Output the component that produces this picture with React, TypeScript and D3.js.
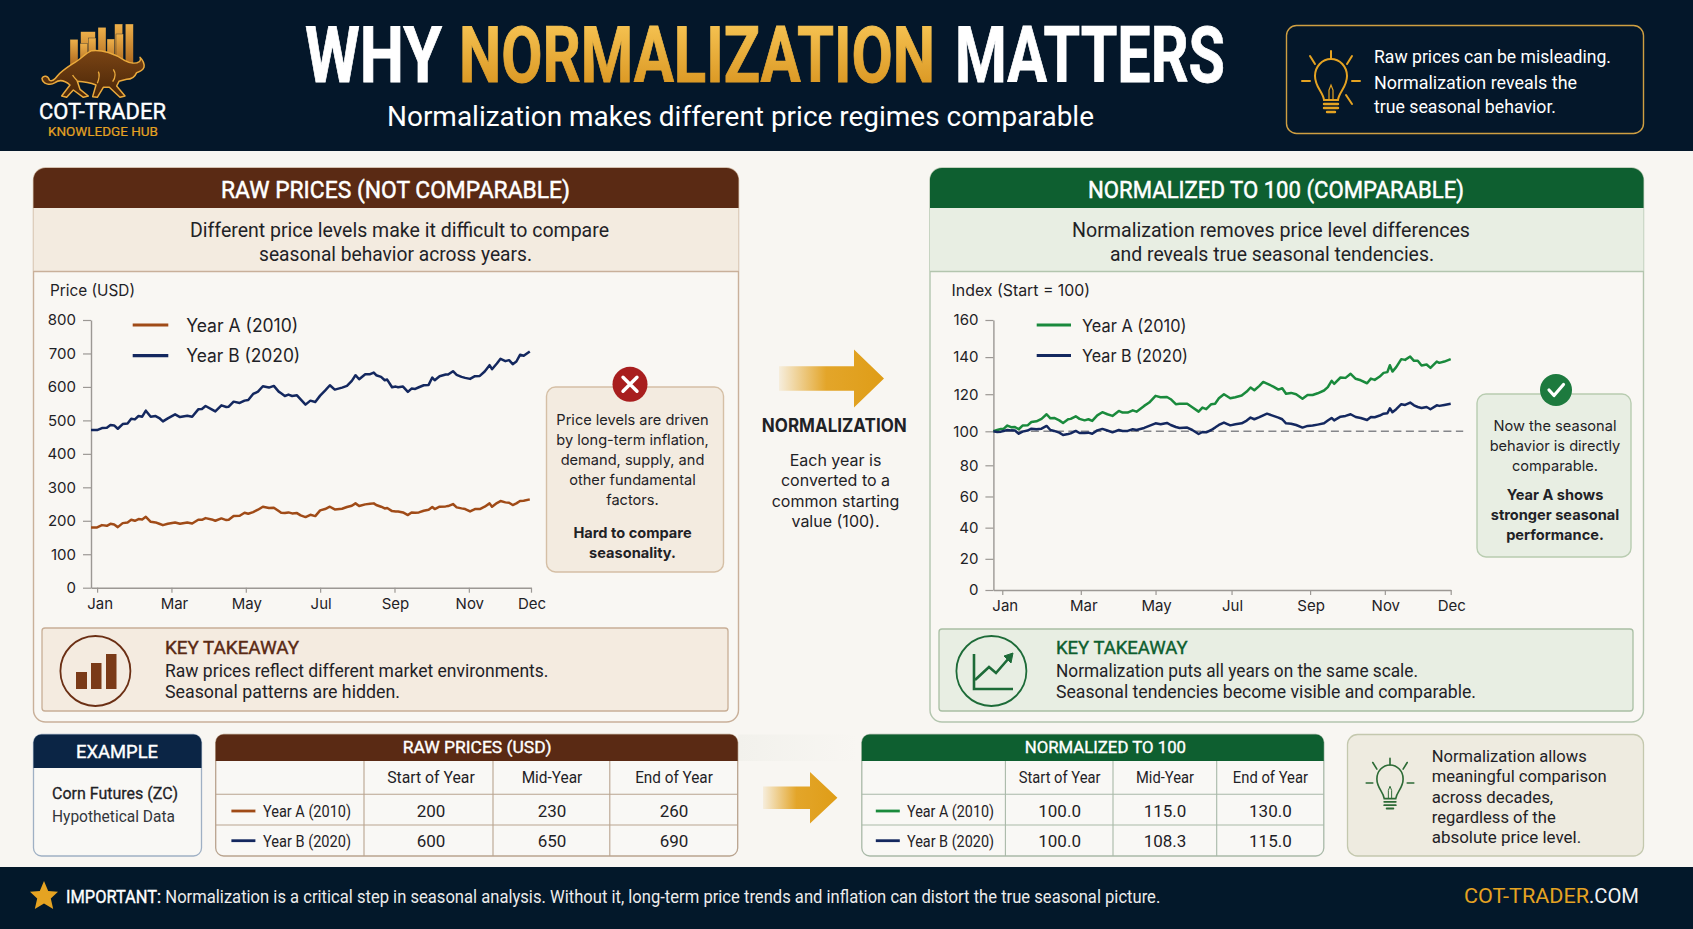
import { useEffect, useRef } from 'react';
import * as d3 from 'd3';

const narrow = "'Roboto', sans-serif";
const sans = "'Inter', 'Noto Sans', sans-serif";

const BROWN = '#5a2a14';
const GREEN = '#0e5f30';
const NAVY = '#14285f';
const LINE_BROWN = '#a04b17';
const LINE_GREEN = '#1a8a3c';
const GOLD = '#e5a322';
const INK = '#1f2226';

// shared chart data
const monthLabels = ['Jan', 'Mar', 'May', 'Jul', 'Sep', 'Nov', 'Dec'];
const rawMonthDays = [5, 66, 127, 188, 249, 310, 361];
const normMonthDays = [7, 69, 128, 188, 250, 309, 361];
const rawTicks = [0, 100, 200, 300, 400, 500, 600, 700, 800];
const normTicks = [0, 20, 40, 60, 80, 100, 120, 140, 160];
const rawDays = [
  0, 5, 9, 13, 16, 19, 22, 26, 30, 33,
  36, 39, 42, 45, 49, 53, 56, 59, 63, 69,
  73, 79, 83, 88, 91, 94, 99, 102, 107, 111,
  113, 117, 122, 126, 129, 133, 137, 141, 146, 150,
  154, 156, 159, 162, 165, 169, 172, 176, 180, 184,
  188, 192, 196, 200, 206, 210, 214, 217, 220, 225,
  229, 232, 234, 238, 241, 243, 247, 250, 252, 256,
  260, 263, 266, 269, 273, 277, 280, 282, 286, 291,
  293, 297, 300, 304, 307, 311, 315, 319, 323, 327,
  329, 333, 336, 340, 343, 346, 349, 352, 355, 360,
];
const rawYearA = [
  180, 180, 187, 185, 191, 189, 181, 193, 195, 203,
  200, 205, 204, 212, 197, 195, 191, 187, 191, 195,
  191, 195, 192, 203, 203, 208, 204, 200, 207, 202,
  203, 214, 215, 224, 221, 226, 233, 242, 238, 239,
  229, 224, 223, 225, 222, 223, 216, 211, 218, 214,
  231, 235, 242, 234, 236, 241, 245, 252, 244, 249,
  251, 252, 247, 242, 237, 238, 229, 228, 228, 225,
  217, 225, 224, 225, 230, 233, 241, 235, 242, 243,
  244, 250, 240, 237, 235, 228, 235, 235, 242, 252,
  242, 253, 259, 255, 254, 247, 252, 259, 260, 264,
];
const rawYearB = [
  471, 471, 477, 478, 486, 485, 475, 489, 491, 505,
  503, 513, 511, 529, 511, 513, 507, 497, 506, 518,
  510, 514, 511, 533, 534, 543, 533, 527, 545, 540,
  541, 556, 552, 559, 561, 579, 586, 602, 598, 603,
  586, 581, 573, 577, 573, 575, 563, 547, 559, 555,
  574, 589, 605, 592, 598, 603, 618, 635, 623, 638,
  638, 643, 635, 630, 620, 622, 599, 601, 599, 601,
  585, 595, 594, 599, 605, 606, 628, 620, 632, 637,
  637, 647, 636, 630, 627, 624, 632, 633, 646, 665,
  653, 670, 684, 677, 680, 668, 676, 696, 693, 706,
];
const normDays = [
  0, 3, 6, 8, 11, 14, 17, 20, 23, 27,
  30, 34, 38, 42, 45, 48, 52, 55, 59, 61,
  65, 68, 72, 75, 78, 82, 86, 90, 94, 99,
  102, 106, 110, 113, 119, 123, 128, 132, 137, 140,
  144, 147, 153, 157, 162, 165, 168, 172, 175, 178,
  182, 187, 191, 196, 200, 203, 206, 210, 213, 216,
  221, 225, 228, 231, 235, 239, 244, 248, 252, 256,
  261, 264, 267, 269, 274, 278, 282, 286, 290, 295,
  298, 301, 305, 308, 311, 313, 315, 318, 322, 325,
  329, 332, 335, 338, 342, 345, 350, 352, 356, 361,
];
const normYearA = [
  100, 100.7, 101.3, 101.3, 103.1, 102.2, 102.3, 101.1, 103.1, 103.2,
  105, 105.4, 106.7, 109.2, 107, 107.2, 105.9, 104.5, 106.5, 106.7,
  108.1, 106.7, 105.9, 106.5, 105.6, 108.6, 110.3, 109.2, 108.3, 111,
  110.1, 110.1, 111.3, 110.6, 113.7, 115.5, 119.1, 118.4, 118.5, 117.3,
  114.6, 114.8, 114.9, 113, 110.6, 112.8, 111.9, 114.6, 114.9, 117.8,
  120, 117.8, 118.4, 119.3, 121.4, 123.6, 122.1, 124.5, 126.6, 125.7,
  124.1, 122.5, 123.2, 120.2, 120.7, 120, 117.6, 119.6, 119.6, 120.5,
  122, 123.8, 127.2, 125.6, 129, 128.8, 131, 128.3, 127.5, 125.9,
  128.4, 127.7, 129.5, 131.5, 131.9, 135.6, 132.2, 134.6, 138.9, 138.5,
  140.3, 138, 138, 135.5, 136, 134.2, 137.6, 136.9, 137.6, 138.9,
];
const normYearB = [
  100, 99.6, 99.8, 100.2, 100.7, 100.5, 100.4, 98.6, 99.8, 100.4,
  101.4, 101.1, 101.4, 102.9, 100.7, 100.2, 99.2, 97.8, 98.4, 98.8,
  100.2, 99, 99, 99.2, 98.6, 100.5, 101.3, 100.4, 99.4, 100.7,
  100.2, 100.2, 101.1, 100.7, 101.8, 102.9, 104.3, 103.8, 104.5, 103.4,
  102.3, 101.8, 102, 100.7, 98.4, 99.6, 99.4, 100.7, 102, 103.4,
  104.7, 103.2, 103.8, 104.3, 105.8, 107.4, 106.5, 107.6, 108.6, 109.5,
  108.3, 107.4, 106.5, 104.3, 104.1, 103.4, 102, 102.9, 103.1, 103.6,
  104.3, 105.8, 107.2, 105.9, 107.9, 108.3, 109.2, 107.7, 107.2, 106.1,
  107.7, 107.6, 108.5, 109.5, 109.7, 112.4, 110.3, 111.9, 114.6, 114.2,
  115.5, 114, 113.1, 112.6, 113.1, 111.9, 114, 113.7, 114.2, 114.8,
];

// table data
const tableColumns = ['Start of Year', 'Mid-Year', 'End of Year'];
const rowLabels = ['Year A (2010)', 'Year B (2020)'];
const rawTable = [['200', '230', '260'], ['600', '650', '690']];
const normTable = [['100.0', '115.0', '130.0'], ['100.0', '108.3', '115.0']];

// heavy = thin outline in the fill colour
// sx = squeeze the glyphs with a transform so the text box stays at its drawn width
function T({ x, y, size, w, fill = INK, font = sans, weight = 400, anchor = 'start', heavy, sx, children }: any) {
  const place = sx ? { transform: `translate(${x},${y}) scale(${sx},1)` } : { x, y };
  const length = w ? (sx ? w / sx : w) : undefined;
  return (
    <text
      {...place}
      fontSize={size}
      fontFamily={font}
      fontWeight={weight}
      fill={fill}
      stroke={heavy ? fill : undefined}
      strokeWidth={heavy}
      textAnchor={anchor}
      textLength={length}
      lengthAdjust={w ? 'spacingAndGlyphs' : undefined}
    >
      {children}
    </text>
  );
}

function LineChart({ days, seriesA, seriesB, colorA, tickDays, yTicks, xRange, yDomain, yRange, refLine, labelPad }: any) {
  const ref = useRef<SVGGElement>(null);

  useEffect(() => {
    if (!ref.current) return;
    const g = d3.select(ref.current);
    g.selectAll('*').remove();

    const x = d3.scaleLinear().domain([0, 361]).range(xRange);
    const y = d3.scaleLinear().domain(yDomain).range(yRange);
    const axisColor = '#9c9894';

    // axes
    const bottom = g.append('g')
      .attr('transform', `translate(0,${y(0)})`)
      .call(
        d3.axisBottom(x)
          .tickValues(tickDays)
          .tickFormat((_d, i) => monthLabels[i])
          .tickSize(5)
          .tickSizeOuter(0)
          .tickPadding(labelPad)
      );
    const left = g.append('g')
      .attr('transform', `translate(${xRange[0]},0)`)
      .call(d3.axisLeft(y).tickValues(yTicks).tickSize(8).tickSizeOuter(0).tickPadding(7));

    [bottom, left].forEach(a => {
      a.selectAll('path').attr('stroke', axisColor).attr('stroke-width', 1.4);
      a.selectAll('line').attr('stroke', axisColor).attr('stroke-width', 1.2);
      a.selectAll('text')
        .style('font-family', sans)
        .style('font-size', '15px')
        .style('fill', INK);
    });
    bottom.selectAll('text').attr('dx', (_d, i) => (i < 2 ? 2.5 : 0.5));

    if (refLine !== undefined) {
      g.append('line')
        .attr('x1', x(0))
        .attr('x2', x(361) + 12.5)
        .attr('y1', y(refLine))
        .attr('y2', y(refLine))
        .attr('stroke', '#85868a')
        .attr('stroke-width', 1.4)
        .attr('stroke-dasharray', '8,4.5');
    }

    const line = d3.line<number>()
      .x((_d, i) => x(days[i]))
      .y(d => y(d));

    g.append('path').datum(seriesA as number[])
      .attr('fill', 'none').attr('stroke', colorA).attr('stroke-width', 2.5).attr('stroke-linejoin', 'round')
      .attr('d', line);
    g.append('path').datum(seriesB as number[])
      .attr('fill', 'none').attr('stroke', NAVY).attr('stroke-width', 2.5).attr('stroke-linejoin', 'round')
      .attr('d', line);
  }, []);

  return <g ref={ref} />;
}

function Bulb({ cx, cy, s, color, lowRay }: any) {
  return (
    <g transform={`translate(${cx},${cy}) scale(${s})`} fill="none" stroke={color} strokeWidth={2} strokeLinecap="round">
      <path d="M-7,19 C-8,11 -16,6 -16,-5 A16,17 0 1 1 16,-5 C16,6 8,11 7,19 Z" />
      <path d="M-2,19 L-2,9 L0,4 L2,9 L2,19" strokeWidth={1.2} />
      <path d="M-7,23 H7 M-7,27 H7 M-4,31 H4" strokeWidth={2.4} />
      <path d="M0,-30 V-22 M-21,-25 L-16,-17 M21,-25 L16,-17 M-29,0 H-21 M29,0 H21" />
      {lowRay && <path d="M15,14 L21,23" />}
    </g>
  );
}

function Panel({ x, width, head, tint, edge, title, titleW, titleX, l1, l1x, l1w, l2, l2x, l2w }: any) {
  return (
    <g>
      <rect x={x} y={168} width={width} height={554} rx={12} fill="#f9f7f3" stroke={edge} strokeWidth={1.4} />
      <path d={`M${x},208 V180 A12,12 0 0 1 ${x + 12},168 H${x + width - 12} A12,12 0 0 1 ${x + width},180 V208 Z`} fill={head} />
      <rect x={x} y={208} width={width} height={63} fill={tint} />
      <line x1={x} x2={x + width} y1={271.5} y2={271.5} stroke={edge} strokeWidth={1.4} />
      <T x={titleX} y={198} size={24} w={titleW} fill="#fff" font={narrow} heavy={0.5}>{title}</T>
      <T x={l1x} y={236.5} size={20} w={l1w} font={narrow}>{l1}</T>
      <T x={l2x} y={261} size={20} w={l2w} font={narrow}>{l2}</T>
    </g>
  );
}

function DataTable({ x, width, title, titleX, titleW, head, edge, colX, colCenters, colHeadW, labelX, labelW, swatchX, colorA, values }: any) {
  const top = 734.5;
  const bottom = 856;
  return (
    <g>
      <rect x={x} y={top} width={width} height={bottom - top} rx={8} fill="#f9f8f5" stroke={edge} strokeWidth={1.3} />
      <path d={`M${x},761 V${top + 8} A8,8 0 0 1 ${x + 8},${top} H${x + width - 8} A8,8 0 0 1 ${x + width},${top + 8} V761 Z`} fill={head} />
      <T x={titleX} y={753} size={16.5} w={titleW} fill="#fff" font={narrow} heavy={0.35}>{title}</T>
      {[794.3, 825].map(y => <line key={y} x1={x} x2={x + width} y1={y} y2={y} stroke={edge} strokeWidth={1.1} />)}
      {colX.map((cx: number) => <line key={cx} x1={cx} x2={cx} y1={761} y2={bottom} stroke={edge} strokeWidth={1.1} />)}
      {tableColumns.map((c, i) => (
        <T key={c} x={colCenters[i]} y={783} size={16} w={colHeadW[i]} anchor="middle" font={narrow}>{c}</T>
      ))}
      {rowLabels.map((r, i) => (
        <g key={r}>
          <line x1={swatchX} x2={swatchX + 24} y1={811 + i * 29.7} y2={811 + i * 29.7} stroke={i === 0 ? colorA : NAVY} strokeWidth={2.8} />
          <T x={labelX} y={816.7 + i * 30} size={16} w={labelW} font={narrow}>{r}</T>
          {values[i].map((v: string, j: number) => (
            <T key={j} x={colCenters[j]} y={817 + i * 30} size={17} anchor="middle" font={narrow}>{v}</T>
          ))}
        </g>
      ))}
    </g>
  );
}

function Arrow({ x0, x1, xh, yc, shaft, head, id }: any) {
  return (
    <path
      d={`M${x0},${yc - shaft} H${xh} V${yc - head} L${x1},${yc} L${xh},${yc + head} V${yc + shaft} H${x0} Z`}
      fill={`url(#${id})`}
    />
  );
}

export default function App() {
  return (
    <svg width={1693} height={929} viewBox="0 0 1693 929" style={{ position: 'fixed', left: 0, top: 0, display: 'block' }}>
      <defs>
        <linearGradient id="goldText" gradientUnits="userSpaceOnUse" x1="0" x2="0" y1="-55" y2="0">
          <stop offset="0%" stopColor="#f4c04f" />
          <stop offset="100%" stopColor="#dc9a26" />
        </linearGradient>
        <linearGradient id="arrowA" x1="0" x2="1" y1="0" y2="0">
          <stop offset="0%" stopColor="#e4a21e" stopOpacity={0.1} />
          <stop offset="45%" stopColor="#e2a11f" stopOpacity={0.95} />
          <stop offset="100%" stopColor="#df9d17" />
        </linearGradient>
        <linearGradient id="barGold" x1="0" x2="0" y1="0" y2="1">
          <stop offset="0%" stopColor="#eeb04a" />
          <stop offset="100%" stopColor="#a9641c" />
        </linearGradient>
        <linearGradient id="bullFill" x1="0" x2="0" y1="0" y2="1">
          <stop offset="0%" stopColor="#7a4414" />
          <stop offset="100%" stopColor="#4a2608" />
        </linearGradient>
        <linearGradient id="bandFade" x1="0" x2="1" y1="0" y2="0">
          <stop offset="0%" stopColor="#f2f1ec" />
          <stop offset="100%" stopColor="#f2f1ec" stopOpacity={0} />
        </linearGradient>
      </defs>

      <rect width={1693} height={929} fill="#f8f6f2" />

      {/* header */}
      <rect width={1693} height={151} fill="#04172a" />
      <g transform="translate(20,10) scale(0.3333)">
        {[[150, 88, 24], [182, 65, 44], [234, 52, 24], [284, 42, 24], [316, 42, 24], [180, 100, 22], [206, 84, 22], [261, 87, 23], [288, 72, 22]].map(([bx, by, bw], i) => (
          <rect key={i} x={bx} y={by} width={bw} height={170 - by} fill="url(#barGold)" stroke="#04172a" strokeWidth={1} />
        ))}
        <path
          d="M66,205 C70,195 85,197 88,210 C95,216 105,208 112,198 C125,182 145,170 160,160 C180,150 195,130 215,122 C245,118 285,130 315,152 C330,160 348,162 358,155 C362,152 362,145 360,142 C368,150 374,160 372,172 C368,182 358,186 350,188 C345,200 335,208 320,208 L297,214 L290,228 L315,258 L300,262 L268,232 L250,232 L232,262 L218,260 L228,225 C210,218 190,215 172,214 L180,238 L205,258 L190,262 L160,240 L140,262 L125,258 L150,225 C135,212 118,208 105,218 C90,228 68,222 66,205 Z"
          fill="url(#bullFill)"
          stroke="#eaaa3c"
          strokeWidth={4.5}
          strokeLinejoin="round"
        />
        <path d="M235,185 C240,195 238,205 232,220 M280,178 C288,190 285,205 278,215 M172,212 C165,205 160,200 158,195" fill="none" stroke="#eaaa3c" strokeWidth={4} />
      </g>
      <T x={39} y={119} size={21.5} w={127} fill="#fff" font={narrow} heavy={0.4}>COT-TRADER</T>
      <T x={48} y={136} size={13} w={110} fill={GOLD} font={narrow} heavy={0.2}>KNOWLEDGE HUB</T>

      <T x={305} y={82} size={77} w={137} sx={0.8} fill="#fff" font={narrow} weight={700} heavy={0.8}>WHY</T>
      <T x={459} y={82} size={77} w={476} sx={0.8} fill="url(#goldText)" font={narrow} weight={700} heavy={0.8}>NORMALIZATION</T>
      <T x={955} y={82} size={77} w={270} sx={0.77} fill="#fff" font={narrow} weight={700} heavy={0.8}>MATTERS</T>
      <T x={387} y={126} size={27} w={707} fill="#fff" font={narrow}>Normalization makes different price regimes comparable</T>

      <rect x={1286.5} y={25.5} width={357} height={108} rx={10} fill="none" stroke="#cf9f42" strokeWidth={1.4} />
      <Bulb cx={1331} cy={81} s={1} color={GOLD} lowRay />
      <T x={1374} y={63} size={18} w={237} fill="#fff" font={narrow}>Raw prices can be misleading.</T>
      <T x={1374} y={88.5} size={18} w={203} fill="#fff" font={narrow}>Normalization reveals the</T>
      <T x={1374} y={113} size={18} w={182} fill="#fff" font={narrow}>true seasonal behavior.</T>

      {/* raw panel */}
      <Panel
        x={33.5} width={705} head={BROWN} tint="#f3ebe0" edge="#c9b09a"
        title="RAW PRICES (NOT COMPARABLE)" titleX={221} titleW={349}
        l1="Different price levels make it difficult to compare" l1x={190} l1w={419}
        l2="seasonal behavior across years." l2x={259} l2w={273}
      />
      <T x={50} y={296} size={16} w={85} font={sans}>Price (USD)</T>
      <line x1={132.7} x2={168.3} y1={325} y2={325} stroke={LINE_BROWN} strokeWidth={3.2} />
      <line x1={132.7} x2={168.3} y1={355.7} y2={355.7} stroke={NAVY} strokeWidth={3.2} />
      <T x={186.2} y={332} size={18} w={112} font={sans}>{rowLabels[0]}</T>
      <T x={186.2} y={362} size={18} w={114} font={sans}>{rowLabels[1]}</T>
      <LineChart
        days={rawDays} seriesA={rawYearA} seriesB={rawYearB} colorA={LINE_BROWN}
        tickDays={rawMonthDays} yTicks={rawTicks} xRange={[91, 531]}
        yDomain={[0, 800]} yRange={[587.7, 320]} labelPad={6}
      />
      <rect x={546.5} y={387} width={177} height={185} rx={9} fill="#f3ebe0" stroke="#d5bfa5" strokeWidth={1.4} />
      <circle cx={630} cy={384.3} r={17.5} fill="#a81e1e" />
      <path d="M623,377.3 L637,391.3 M637,377.3 L623,391.3" stroke="#fff" strokeWidth={3.4} strokeLinecap="round" />
      {['Price levels are driven', 'by long-term inflation,', 'demand, supply, and', 'other fundamental', 'factors.'].map((t, i) => (
        <T key={t} x={632.5} y={425 + i * 20} size={14.6} anchor="middle">{t}</T>
      ))}
      <T x={632.5} y={538} size={14.6} weight={700} anchor="middle">Hard to compare</T>
      <T x={632.5} y={558} size={14.6} weight={700} anchor="middle">seasonality.</T>

      <rect x={42} y={628} width={686} height={83} rx={3} fill="#f4ebe0" stroke="#c8ae96" strokeWidth={1.3} />
      <circle cx={95.4} cy={671} r={35} fill="none" stroke="#6b2f14" strokeWidth={1.8} />
      <rect x={76} y={672} width={11} height={17} fill="#7a3a18" />
      <rect x={91} y={663} width={10.5} height={26} fill="#7a3a18" />
      <rect x={106} y={654} width={10.5} height={35} fill="#7a3a18" />
      <T x={165} y={654} size={19} w={134} fill={BROWN} font={narrow} heavy={0.4}>KEY TAKEAWAY</T>
      <T x={165} y={676.7} size={18} w={383.5} font={narrow}>Raw prices reflect different market environments.</T>
      <T x={165} y={698} size={18} w={235} font={narrow}>Seasonal patterns are hidden.</T>

      {/* normalization bridge */}
      <Arrow x0={779} x1={884} xh={854} yc={378.5} shaft={12.2} head={29} id="arrowA" />
      <T x={834.3} y={432} size={18.5} w={145} weight={700} anchor="middle">NORMALIZATION</T>
      {['Each year is', 'converted to a', 'common starting', 'value (100).'].map((t, i) => (
        <T key={t} x={835.5} y={466 + i * 20.4} size={16} anchor="middle">{t}</T>
      ))}

      {/* normalized panel */}
      <Panel
        x={930} width={713.5} head={GREEN} tint="#e8eee3" edge="#b3c5ae"
        title="NORMALIZED TO 100 (COMPARABLE)" titleX={1088} titleW={376}
        l1="Normalization removes price level differences" l1x={1072} l1w={398}
        l2="and reveals true seasonal tendencies." l2x={1110} l2w={324}
      />
      <T x={951.6} y={296} size={16} w={138.5} font={sans}>Index (Start = 100)</T>
      <line x1={1036.7} x2={1071} y1={325} y2={325} stroke={LINE_GREEN} strokeWidth={3.2} />
      <line x1={1036.7} x2={1071} y1={355.5} y2={355.5} stroke={NAVY} strokeWidth={3.2} />
      <T x={1082} y={332} size={17.5} w={104.5} font={sans}>{rowLabels[0]}</T>
      <T x={1082} y={362} size={17.5} w={106} font={sans}>{rowLabels[1]}</T>
      <LineChart
        days={normDays} seriesA={normYearA} seriesB={normYearB} colorA={LINE_GREEN}
        tickDays={normMonthDays} yTicks={normTicks} xRange={[993.4, 1450.7]}
        yDomain={[0, 80, 100, 160]} yRange={[590, 465.3, 431.3, 320]} refLine={100} labelPad={5}
      />
      <rect x={1477} y={394} width={154} height={163} rx={9} fill="#e8eee3" stroke="#b8ccb0" strokeWidth={1.4} />
      <circle cx={1556} cy={390} r={16} fill="#1d7a3e" />
      <path d="M1549,390 L1554,395.5 L1563.5,384.5" fill="none" stroke="#fff" strokeWidth={3.2} strokeLinecap="round" strokeLinejoin="round" />
      {['Now the seasonal', 'behavior is directly', 'comparable.'].map((t, i) => (
        <T key={t} x={1555} y={431 + i * 20} size={14.6} anchor="middle">{t}</T>
      ))}
      {['Year A shows', 'stronger seasonal', 'performance.'].map((t, i) => (
        <T key={t} x={1555} y={500 + i * 20} size={14.6} weight={700} anchor="middle">{t}</T>
      ))}

      <rect x={939} y={629} width={694} height={82} rx={3} fill="#e8eee3" stroke="#a9bfa4" strokeWidth={1.3} />
      <circle cx={991.4} cy={671} r={35} fill="none" stroke="#1d6b38" strokeWidth={1.8} />
      <path d="M974,654 V689 H1013" fill="none" stroke="#1d6b38" strokeWidth={2.6} />
      <path d="M975,680 L989,667 L996,673 L1009,658" fill="none" stroke="#1d6b38" strokeWidth={2.6} />
      <path d="M1004,656 L1013,653 L1011,663 Z" fill="#1d6b38" stroke="#1d6b38" strokeWidth={1} />
      <T x={1056} y={654} size={19} w={131.6} fill={GREEN} font={narrow} heavy={0.4}>KEY TAKEAWAY</T>
      <T x={1056} y={677} size={18} w={362} font={narrow}>Normalization puts all years on the same scale.</T>
      <T x={1056} y={698} size={18} w={420} font={narrow}>Seasonal tendencies become visible and comparable.</T>

      {/* example strip */}
      <rect x={33.5} y={734.5} width={168} height={121.5} rx={8} fill="#f9f8f5" stroke="#9fb0c4" strokeWidth={1.3} />
      <path d="M33.5,768 V742.5 A8,8 0 0 1 41.5,734.5 H193.5 A8,8 0 0 1 201.5,742.5 V768 Z" fill="#0b2545" />
      <T x={76} y={758} size={19} w={82} fill="#fff" font={narrow} heavy={0.4}>EXAMPLE</T>
      <T x={52} y={799} size={16.5} w={126} font={narrow} heavy={0.3}>Corn Futures (ZC)</T>
      <T x={52} y={821.7} size={16.5} w={123} font={narrow} fill="#33363b">Hypothetical Data</T>

      <rect x={738} y={734.5} width={120} height={26.5} fill="url(#bandFade)" />
      <DataTable
        x={215.7} width={522} title="RAW PRICES (USD)" titleX={402.7} titleW={149} head={BROWN} edge="#b9a48f"
        colX={[364, 493, 609.8]} colCenters={[431, 552, 674]} colHeadW={[87.6, 60.6, 77.7]}
        labelX={263} labelW={88} swatchX={231.4} colorA={LINE_BROWN} values={rawTable}
      />
      <Arrow x0={763} x1={837.4} xh={810} yc={797.7} shaft={11.2} head={25.8} id="arrowA" />
      <DataTable
        x={861.8} width={462} title="NORMALIZED TO 100" titleX={1024.7} titleW={161.3} head={GREEN} edge="#a9b9a8"
        colX={[1005.4, 1113, 1216.7]} colCenters={[1059.6, 1165, 1270.4]} colHeadW={[81.7, 58, 75.2]}
        labelX={907} labelW={87} swatchX={875.8} colorA={LINE_GREEN} values={normTable}
      />

      <rect x={1347.5} y={734.5} width={296} height={121.5} rx={10} fill="#eeebe0" stroke="#c4c8ae" strokeWidth={1.3} />
      <Bulb cx={1390} cy={783} s={0.82} color="#2d6b36" />
      {[
        ['Normalization allows', 155],
        ['meaningful comparison', 175],
        ['across decades,', 121.5],
        ['regardless of the', 124],
        ['absolute price level.', 149.5],
      ].map(([t, w], i) => (
        <T key={t as string} x={1431.7} y={761.7 + i * 20.4} size={17} w={w} font={narrow}>{t}</T>
      ))}

      {/* footer */}
      <rect y={867} width={1693} height={62} fill="#03182a" />
      <path d="M44,881 L48.2,891 L58,891.7 L50.8,898.4 L53.2,909 L44,903.4 L34.8,909 L37.2,898.4 L30,891.7 L39.8,891 Z" fill={GOLD} />
      <T x={66} y={903} size={18.6} w={95} fill="#fff" font={narrow} heavy={0.4}>IMPORTANT:</T>
      <T x={165.3} y={903} size={19} w={995} fill="#ececec" font={narrow}>
        Normalization is a critical step in seasonal analysis. Without it, long-term price trends and inflation can distort the true seasonal picture.
      </T>
      <T x={1464} y={903} size={21} w={125} fill={GOLD} font={narrow}>COT-TRADER</T>
      <T x={1589} y={903} size={21} w={50} fill="#f2f2f2" font={narrow}>.COM</T>
    </svg>
  );
}
